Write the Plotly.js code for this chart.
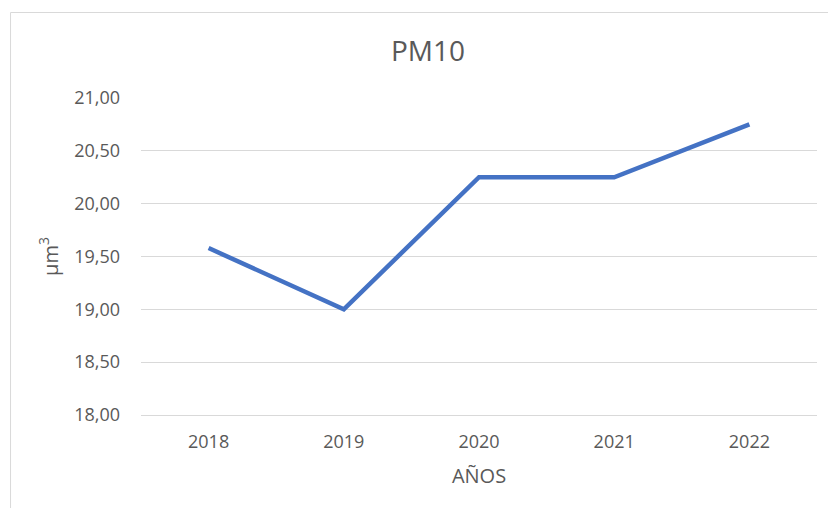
<!DOCTYPE html>
<html>
<head>
<meta charset="utf-8">
<script src="https://cdn.plot.ly/plotly-3.0.1.min.js"></script>
<style>
html,body{margin:0;padding:0;background:#fff;}
#chart{width:828px;height:508px;}
</style>
</head>
<body>
<div id="chart"></div>
<script>
const years = ['2018', '2019', '2020', '2021', '2022'];
const pm10 = [19.58, 19.00, 20.25, 20.25, 20.75];
const yTicks = [18, 18.5, 19, 19.5, 20, 20.5, 21];
const chartTitle = 'PM10';
const xTitle = 'AÑOS';
const yTitle = 'µm<sup>3</sup>';

const textColor = '#595959';
const gridColor = '#D9D9D9';
const fontFam = '"Open Sans", "Noto Sans", sans-serif';

const trace = {
  x: years,
  y: pm10,
  type: 'scatter',
  mode: 'lines',
  line: {color: '#4472C4', width: 4.5},
  hoverinfo: 'skip'
};

const layout = {
  width: 828,
  height: 508,
  margin: {l: 141, r: 11, t: 98, b: 93, pad: 0},
  paper_bgcolor: '#ffffff',
  plot_bgcolor: '#ffffff',
  separators: ', ',
  font: {family: fontFam, color: textColor, size: 18},
  showlegend: false,
  title: {
    text: chartTitle,
    font: {family: fontFam, size: 28, color: textColor},
    xref: 'paper', x: 0.4246, xanchor: 'center',
    yref: 'container', y: 0.90, yanchor: 'middle'
  },
  xaxis: {
    type: 'category',
    range: [-0.5, years.length - 0.5],
    showgrid: false,
    showline: true,
    linecolor: gridColor,
    linewidth: 1,
    ticks: '',
    ticklabelstandoff: 10,
    tickfont: {family: fontFam, size: 18, color: textColor},
    title: {text: xTitle, font: {family: fontFam, size: 20, color: textColor}, standoff: 17},
    fixedrange: true
  },
  yaxis: {
    range: [18, 21],
    tickvals: yTicks,
    tickformat: '.2f',
    showgrid: true,
    gridcolor: gridColor,
    gridwidth: 1,
    zeroline: false,
    showline: false,
    ticks: '',
    ticklabelstandoff: 20,
    tickfont: {family: fontFam, size: 18, color: textColor},
    title: {text: yTitle, font: {family: fontFam, size: 20, color: textColor}, standoff: 10},
    fixedrange: true
  },
  shapes: [{
    type: 'rect',
    xref: 'paper', yref: 'paper',
    x0: -0.193, x1: 1.2,
    y0: -0.4, y1: 1.2697,
    line: {color: gridColor, width: 1},
    fillcolor: 'rgba(0,0,0,0)',
    layer: 'below'
  }]
};

Plotly.newPlot('chart', [trace], layout, {displayModeBar: false, staticPlot: true});
</script>
</body>
</html>
